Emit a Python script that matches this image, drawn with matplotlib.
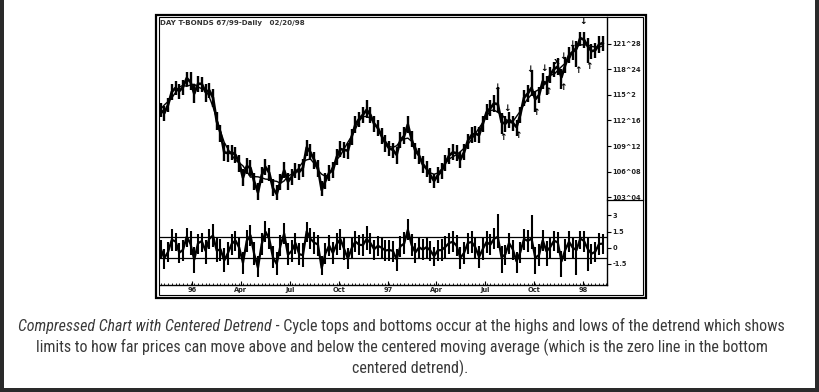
import numpy as np
import pandas as pd
import matplotlib
matplotlib.use('Agg')
import matplotlib.pyplot as plt
from matplotlib import font_manager
from matplotlib.patches import Rectangle
from matplotlib.lines import Line2D

W, H = 819, 392

# weekly bars of the T-bond contract
start = '1995-11-03'
close = [113.8, 113.4, 114.4, 116.0, 116.5, 116.1, 116.6, 117.7, 117.2, 115.8,
         117.0, 117.0, 116.0, 116.2, 115.3, 112.4, 111.0, 108.6, 108.5, 108.6,
         108.3, 107.3, 105.5, 106.9, 106.7, 105.0, 103.7, 105.8, 106.8, 106.1,
         104.2, 103.5, 105.0, 106.4, 105.0, 105.6, 106.4, 106.2, 106.7, 109.2,
         108.6, 107.7, 106.7, 104.0, 105.1, 106.1, 106.4, 108.0, 109.0, 108.9,
         108.8, 110.5, 112.0, 112.7, 113.2, 113.8, 113.2, 112.1, 111.6, 110.6,
         109.7, 109.1, 108.9, 108.3, 110.1, 110.6, 112.0, 110.2, 108.8, 108.2,
         107.1, 106.6, 105.8, 105.1, 105.8, 106.3, 107.3, 108.2, 108.6, 108.5,
         107.7, 108.6, 110.0, 110.7, 110.9, 110.7, 112.1, 113.5, 114.0, 114.6,
         114.5, 112.3, 112.1, 112.6, 112.2, 111.7, 113.2, 115.3, 115.8, 116.5,
         115.1, 115.6, 117.3, 117.0, 118.1, 118.8, 119.1, 117.8, 119.3, 120.5,
         120.9, 121.3, 122.6, 122.4, 121.6, 121.0, 121.1, 121.8, 122.0]
high = [114.6, 114.3, 115.3, 117.0, 117.3, 117.0, 117.5, 118.5, 118.4, 117.0,
        117.9, 117.8, 117.0, 117.1, 116.4, 113.6, 112.0, 109.8, 109.5, 109.5,
        109.2, 108.3, 106.5, 107.9, 107.7, 106.1, 104.8, 106.8, 107.8, 107.1,
        105.3, 104.6, 106.0, 107.4, 106.1, 106.6, 107.3, 107.2, 107.8, 110.1,
        109.6, 108.7, 107.6, 105.1, 106.1, 107.1, 107.4, 109.0, 110.0, 109.9,
        109.8, 111.5, 113.0, 113.6, 114.2, 115.0, 114.1, 113.0, 112.5, 111.6,
        110.7, 110.0, 109.8, 109.3, 111.1, 111.7, 113.0, 111.2, 109.7, 109.1,
        108.1, 107.5, 106.7, 106.0, 106.8, 107.3, 108.3, 109.1, 109.6, 109.5,
        108.7, 109.6, 110.9, 111.7, 111.8, 111.7, 113.1, 114.5, 115.0, 115.6,
        116.6, 113.4, 113.0, 113.5, 113.1, 112.6, 114.2, 116.2, 116.8, 118.7,
        116.1, 116.6, 118.3, 118.0, 119.0, 119.7, 120.1, 118.8, 120.3, 121.5,
        121.8, 122.2, 123.3, 123.3, 122.6, 121.9, 122.0, 122.8, 122.9]
low = [112.9, 112.4, 113.5, 115.0, 115.6, 115.1, 115.6, 116.7, 116.2, 114.6,
       116.0, 116.0, 114.8, 115.2, 114.2, 111.3, 109.9, 107.5, 107.4, 107.6,
       107.3, 106.2, 104.5, 105.9, 105.7, 104.0, 102.8, 104.8, 105.8, 105.1,
       103.2, 102.5, 104.0, 105.4, 104.0, 104.6, 105.4, 105.2, 105.6, 108.2,
       107.6, 106.6, 105.6, 103.3, 104.1, 105.1, 105.4, 107.0, 108.0, 107.9,
       107.8, 109.5, 111.0, 111.7, 112.2, 112.8, 112.2, 111.1, 110.6, 109.6,
       108.7, 108.1, 107.9, 107.2, 109.1, 109.6, 111.0, 109.2, 107.8, 107.2,
       106.1, 105.6, 104.8, 104.2, 104.8, 105.3, 106.3, 107.2, 107.6, 107.5,
       106.7, 107.6, 109.0, 109.7, 109.9, 109.7, 111.1, 112.5, 113.0, 113.6,
       113.5, 110.8, 111.1, 111.6, 111.2, 110.6, 112.2, 114.3, 114.8, 115.5,
       113.6, 114.6, 116.3, 115.6, 117.1, 117.8, 118.1, 116.3, 118.3, 119.5,
       119.9, 119.0, 121.6, 121.4, 119.5, 120.0, 120.1, 120.8, 121.0]

price_ticks = [103.125, 106.25, 109.375, 112.5, 115.625, 118.75, 121.875]
price_labels = ['103^04', '106^08', '109^12', '112^16', '115^2', '118^24', '121^28']
detrend_ticks = [3, 1.5, 0, -1.5]
detrend_labels = ['3', '1.5', '0', '-1.5']
band_levels = [1.0, -1.0]

quarter_ticks = ['1996-01-01', '1996-04-01', '1996-07-01', '1996-10-01', '1997-01-01',
                 '1997-04-01', '1997-07-01', '1997-10-01', '1998-01-01']
quarter_labels = ['96', 'Apr', 'Jul', 'Oct', '97', 'Apr', 'Jul', 'Oct', '98']

# cycle marks
top_dates = ['1997-07-24', '1997-08-12', '1997-09-23', '1997-10-19', '1997-11-24',
             '1997-12-11', '1998-01-01']
top_prices = [116.6, 114.0, 118.7, 118.9, 120.3, 121.8, 124.6]
bottom_dates = ['1997-08-04', '1997-09-01', '1997-10-05', '1997-10-27', '1997-11-24',
                '1997-12-21', '1998-01-12']
bottom_prices = [110.4, 110.7, 113.5, 116.0, 116.5, 118.6, 119.1]
cross_date, cross_price = '1997-11-13', 119.7

title = 'DAY T-BONDS 67/99-Daily   02/20/98'
caption_italic = 'Compressed Chart with Centered Detrend'
caption_rest = ' - Cycle tops and bottoms occur at the highs and lows of the detrend which shows'
caption_2 = 'limits to how far prices can move above and below the centered moving average (which is the zero line in the bottom'
caption_3 = 'centered detrend).'

dates = pd.date_range(start, periods=len(close), freq='W-FRI')
c = pd.Series(close, index=dates)
hi = pd.Series(high, index=dates)
lo = pd.Series(low, index=dates)
ma = c.rolling(5, center=True, min_periods=1).mean()


def fx(x):
    return x / W


def fy(y):
    return 1 - y / H


fig = plt.figure(figsize=(W / 100, H / 100), dpi=100)
fig.patch.set_facecolor('white')

ax = fig.add_axes([fx(160), fy(200), (607 - 160) / W, (200 - 17) / H])
ax2 = fig.add_axes([fx(160), fy(285), (607 - 160) / W, (285 - 200) / H], sharex=ax)

tick_font = dict(fontsize=4.8, fontweight='bold', color='#222222')
mark_font = dict(ha='center', va='center', fontsize=6.5, fontweight='bold')

# price panel
ax.vlines(dates, lo, hi, color='black', lw=1.7)
ax.plot(dates, c, color='black', lw=1.9)
ax.plot(dates, ma, color='black', lw=1.0)
for d, p in zip(top_dates, top_prices):
    ax.text(pd.Timestamp(d), p, '↓', **mark_font)
for d, p in zip(bottom_dates, bottom_prices):
    ax.text(pd.Timestamp(d), p, '↑', **mark_font)
ax.text(pd.Timestamp(cross_date), cross_price, 'x', **mark_font)

ax.set_xlim(pd.Timestamp('1995-11-02'), pd.Timestamp('1998-02-14'))
ax.set_ylim(102.76, 125.18)
for s in ['left', 'top', 'bottom']:
    ax.spines[s].set_visible(False)
ax.spines['right'].set_linewidth(1.0)
ax.yaxis.tick_right()
ax.set_yticks(price_ticks)
ax.set_yticklabels(price_labels, **tick_font)
ax.tick_params(axis='y', direction='out', length=3, width=0.8, pad=1)
ax.tick_params(axis='x', bottom=False, labelbottom=False)
ax.text(0.0, 0.985, title, transform=ax.transAxes, ha='left', va='top',
        fontsize=5.1, fontweight='bold', color='#333333')

# centered detrend panel
ax2.vlines(dates, lo - ma, hi - ma, color='black', lw=1.5)
ax2.plot(dates, c - ma, color='black', lw=1.6)
for lvl in band_levels:
    ax2.axhline(lvl, color='black', lw=0.9)
ax2.set_ylim(-3.51, 4.45)
for s in ['left', 'top']:
    ax2.spines[s].set_visible(False)
ax2.spines['right'].set_linewidth(1.0)
ax2.spines['bottom'].set_linewidth(1.0)
ax2.yaxis.tick_right()
ax2.set_yticks(detrend_ticks)
ax2.set_yticklabels(detrend_labels, **tick_font)
ax2.tick_params(axis='y', direction='out', length=3, width=0.8, pad=1)
ax2.set_xticks(pd.to_datetime(quarter_ticks))
ax2.set_xticklabels(quarter_labels, **tick_font)
ax2.set_xticks(pd.date_range('1995-11-03', '1998-02-14', freq='W-FRI'), minor=True)
ax2.tick_params(axis='x', which='major', direction='in', length=3, width=0.8, pad=1.5)
ax2.tick_params(axis='x', which='minor', direction='in', length=1.5, width=0.6)

# separator in label column and chart frame
fig.add_artist(Line2D([fx(607), fx(643)], [fy(200), fy(200)], color='black', lw=0.9))
fig.add_artist(Rectangle((fx(155.5), fy(298)), (645.5 - 155.5) / W, (298 - 14.5) / H,
                         transform=fig.transFigure, fill=False, ec='black', lw=1.6))
fig.add_artist(Rectangle((fx(158.5), fy(295)), (642.5 - 158.5) / W, (295 - 17) / H,
                         transform=fig.transFigure, fill=False, ec='black', lw=0.8))

# dark page border
for x0, y0, w, h in [(0, 0, 4, H), (W - 4, 0, 4, H), (0, H - 4, W, 4)]:
    fig.add_artist(Rectangle((fx(x0), fy(y0 + h)), w / W, h / H, transform=fig.transFigure,
                             color='#2a2a2a', lw=0))

# caption: pick the narrowest installed family, then size it to the reference width
installed = {f.name for f in font_manager.fontManager.ttflist}
cap_family = next((f for f in ['Liberation Sans Narrow', 'DejaVu Sans Condensed',
                               'Roboto Condensed', 'Roboto', 'Lato']
                   if f in installed), 'DejaVu Sans')
cap_font = dict(family=[cap_family, 'DejaVu Sans'], color='#3a3a3a')
renderer = fig.canvas.get_renderer()
t1 = fig.text(0, fy(326), caption_italic, style='italic', va='center', fontsize=10, **cap_font)
t2 = fig.text(0, fy(326), caption_rest, va='center', fontsize=10, **cap_font)
w_total = t1.get_window_extent(renderer).width + t2.get_window_extent(renderer).width
size = 10 * 763 / w_total
t1.set_fontsize(size)
t2.set_fontsize(size)
w1 = t1.get_window_extent(renderer).width
w2 = t2.get_window_extent(renderer).width
x0 = 401.5 - (w1 + w2) / 2
t1.set_x(fx(x0))
t2.set_x(fx(x0 + w1))
fig.text(fx(401.5), fy(347), caption_2, ha='center', va='center', fontsize=size, **cap_font)
fig.text(fx(410), fy(368), caption_3, ha='center', va='center', fontsize=size, **cap_font)

fig.savefig('out.png', dpi=100)
